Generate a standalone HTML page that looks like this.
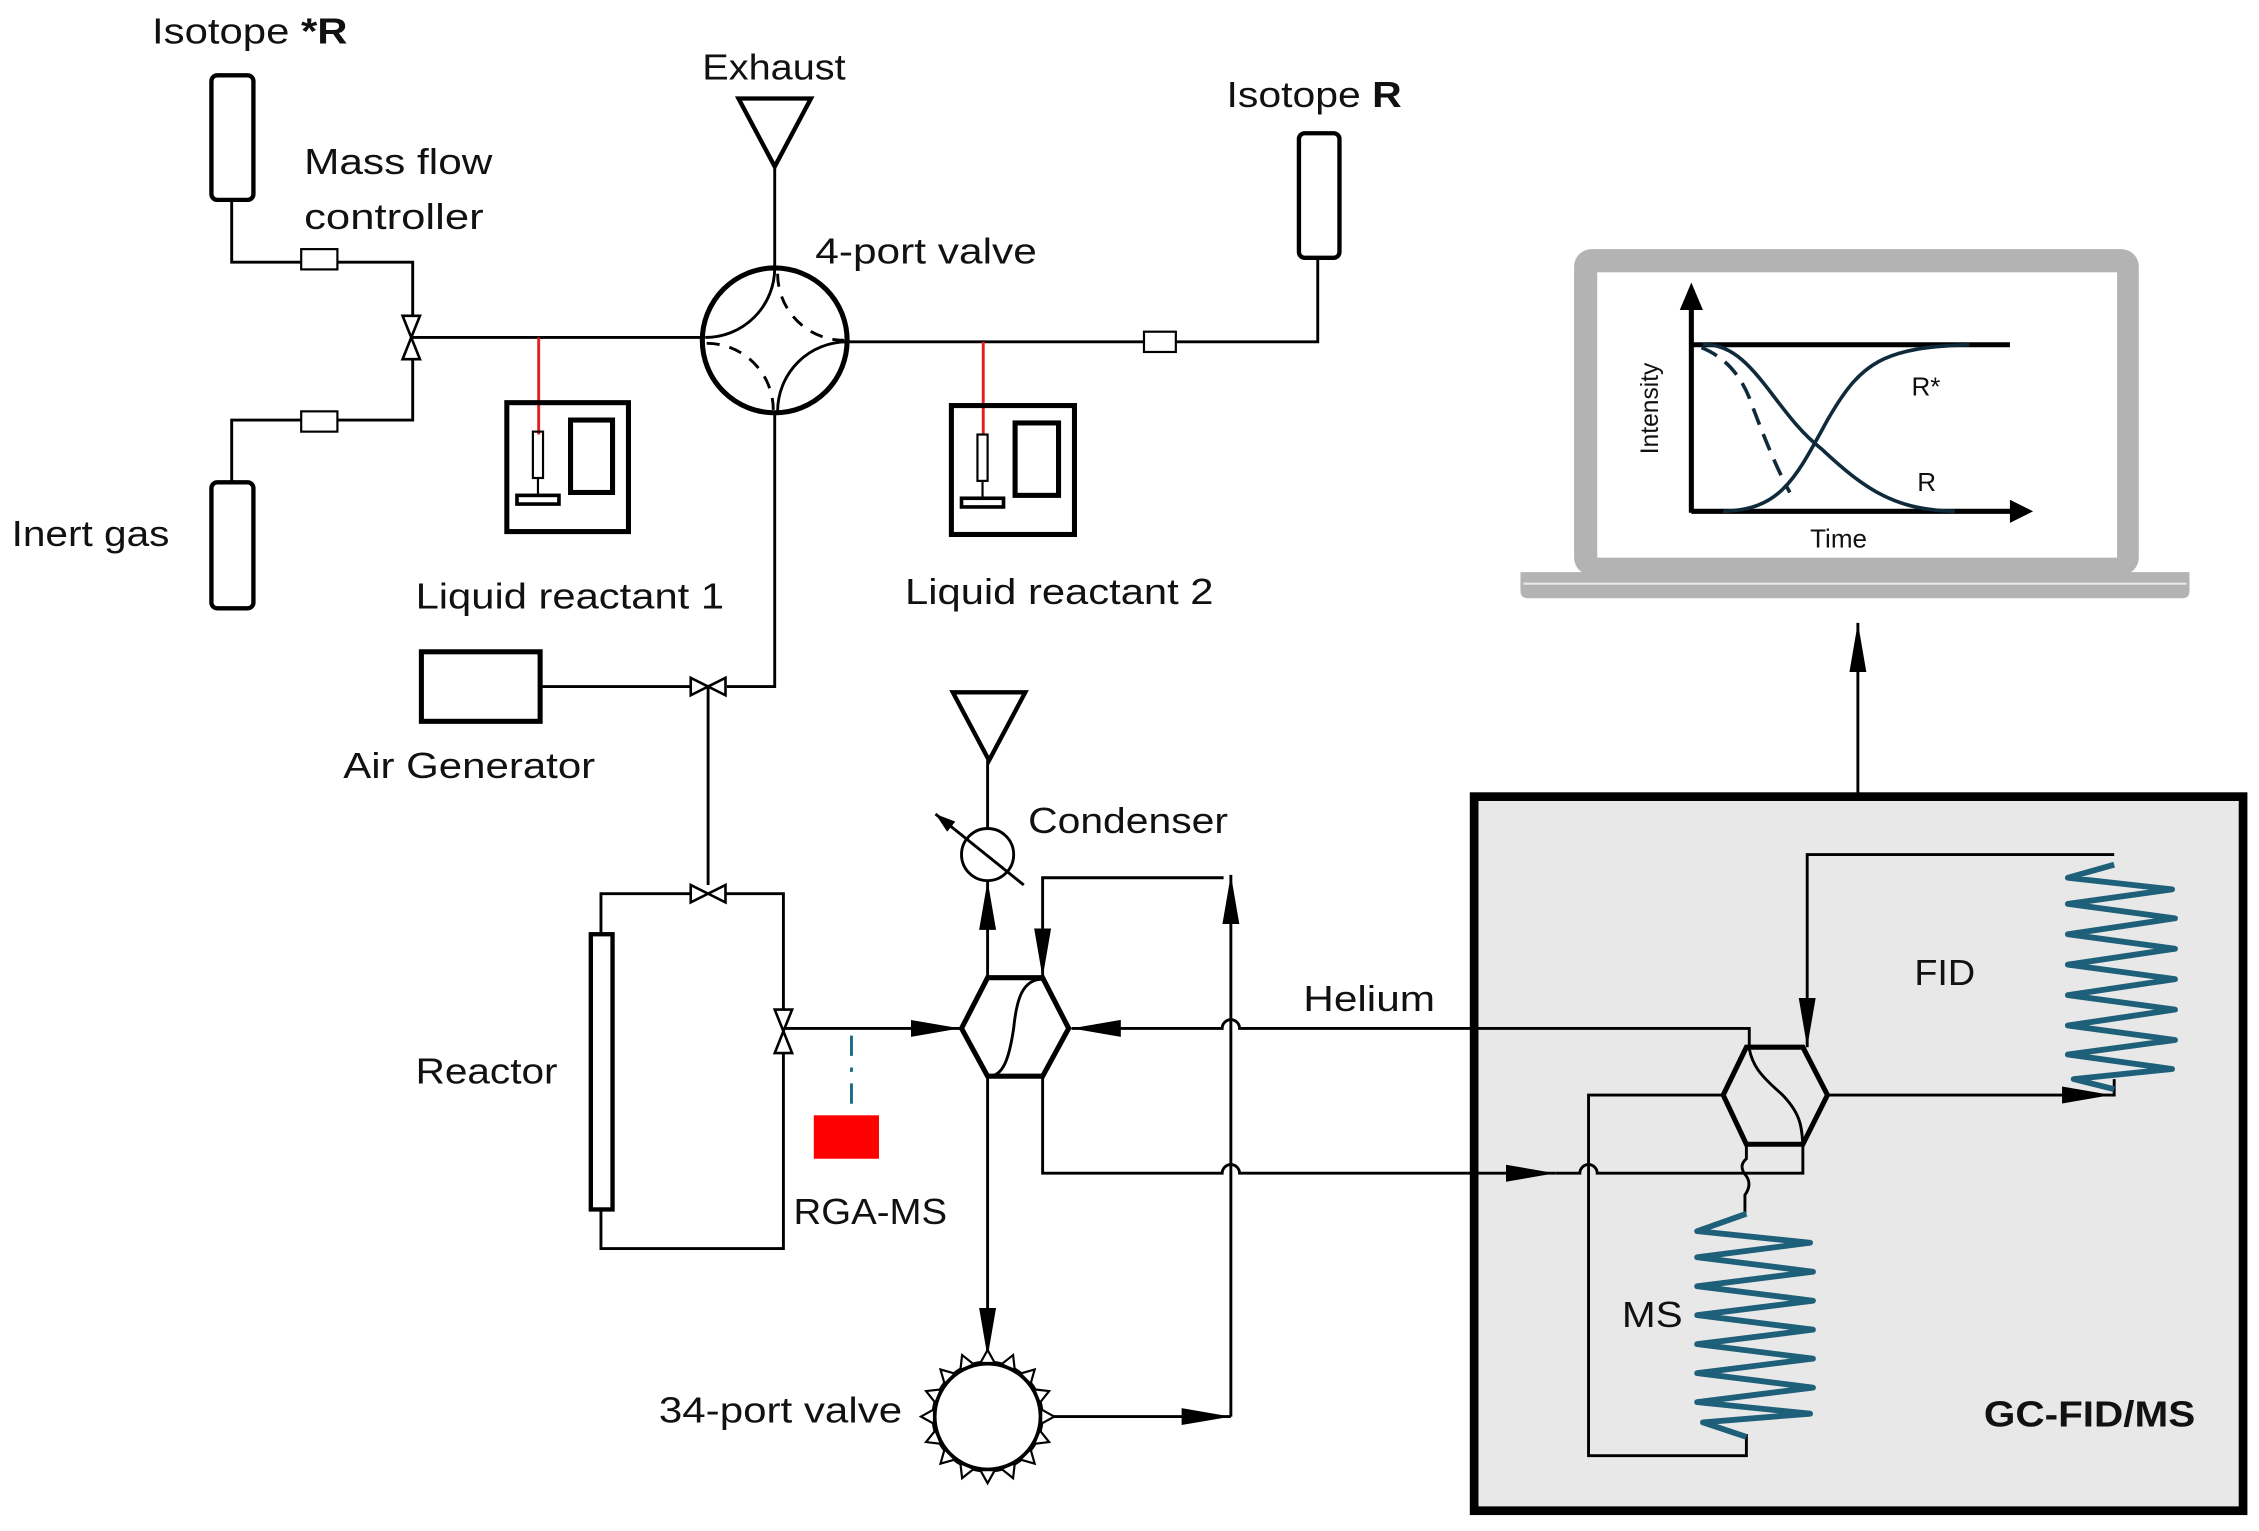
<!DOCTYPE html>
<html><head><meta charset="utf-8"><style>
html,body{margin:0;padding:0;background:#fff}
svg{display:block}
text{font-family:"Liberation Sans",sans-serif;fill:#111}
</style></head><body>
<svg width="2259" height="1531" viewBox="0 0 1560 1057" preserveAspectRatio="none" xmlns="http://www.w3.org/2000/svg">
<defs>
<marker id="ah" viewBox="0 0 10 10" refX="10" refY="5" markerWidth="34" markerHeight="13" markerUnits="userSpaceOnUse" orient="auto" preserveAspectRatio="none"><path d="M0,0.5 L10,5 L0,9.5 Z" fill="#000"/></marker>
<marker id="as" viewBox="0 0 10 10" refX="10" refY="5" markerWidth="14" markerHeight="10" markerUnits="userSpaceOnUse" orient="auto" preserveAspectRatio="none"><path d="M0,0.5 L10,5 L0,9.5 Z" fill="#000"/></marker>
</defs>
<g fill="none" stroke="#000" stroke-width="2">
<rect x="146" y="52" width="29" height="86" rx="4" stroke-width="3"/>
<path d="M160,138 V181 H285 V218"/>
<rect x="208" y="172" width="25" height="14" fill="#fff" stroke-width="1.5"/>
<path d="M278,218 L290,218 L284,233 Z M278,248 L290,248 L284,233 Z" fill="#fff" stroke-width="1.8"/>
<path d="M285,248 V290 H160 V333"/>
<rect x="208" y="284" width="25" height="14" fill="#fff" stroke-width="1.5"/>
<rect x="146" y="333" width="29" height="87" rx="4" stroke-width="3"/>
<path d="M284,233 H485"/>
<path d="M585,236 H910 V178"/>
<rect x="790" y="229" width="22" height="14" fill="#fff" stroke-width="1.5"/>
<rect x="897" y="92" width="28" height="86" rx="4" stroke-width="3"/>
<path d="M510,68 L560,68 L535,115 Z" stroke-width="3"/>
<path d="M535,115 V185"/>
<circle cx="535" cy="235" r="50" stroke-width="3.5"/>
<path d="M535,185 A48,48 0 0 1 487,233"/>
<path d="M585,236 A48,48 0 0 0 537,284"/>
<path d="M537,189 A46,46 0 0 0 583,235" stroke-dasharray="9,7"/>
<path d="M488,237 A46,46 0 0 1 534,283" stroke-dasharray="9,7"/>
<path d="M535,285 V474 H502"/>
<path d="M372,233 V300 M679,236 V300" stroke="#e02020"/>
<rect x="350" y="278" width="84" height="89" stroke-width="3.5"/>
<rect x="368" y="298" width="7" height="32" stroke-width="1.5"/>
<path d="M371.5,330 V343" stroke-width="1.5"/>
<rect x="357" y="342" width="29" height="6" stroke-width="2.5"/>
<rect x="394" y="290" width="29" height="50" stroke-width="3.5"/>
<rect x="657" y="280" width="85" height="89" stroke-width="3.5"/>
<rect x="675" y="300" width="7" height="32" stroke-width="1.5"/>
<path d="M678.5,332 V345" stroke-width="1.5"/>
<rect x="664" y="344" width="29" height="6" stroke-width="2.5"/>
<rect x="701" y="292" width="30" height="50" stroke-width="3.5"/>
<rect x="291" y="450" width="82" height="48" stroke-width="3.5"/>
<path d="M373,474 H477"/>
<path d="M477,468 V480 L489,474 Z M501,468 V480 L489,474 Z" fill="#fff" stroke-width="1.8"/>
<path d="M489,474 V611"/>
<path d="M477,611 V623 L489,617 Z M501,611 V623 L489,617 Z" fill="#fff" stroke-width="1.8"/>
<path d="M477,617 H415 V645 M501,617 H541 V697"/>
<rect x="408" y="645" width="15" height="190" stroke-width="3"/>
<path d="M415,835 V862 H541 V727"/>
<path d="M535,697 H547 L541,712 Z M535,727 H547 L541,712 Z" fill="#fff" stroke-width="1.8"/>
<path d="M541,710 H663" marker-end="url(#ah)"/>
<path d="M588,715 V770" stroke="#1a6a8a" stroke-dasharray="14,8,3,8"/>
<rect x="562" y="770" width="45" height="30" fill="#ff0000" stroke="none"/>
<path d="M664,710 L682,675 L720,675 L738,710 L720,743 L682,743 Z" stroke-width="3.5" fill="#fff"/>
<path d="M720,676 C706,676 702,690 700,710 C697,730 693,743 683,743"/>
<path d="M682,675 V608" marker-end="url(#ah)"/>
<circle cx="682" cy="590" r="18"/>
<path d="M707,611 L646,562" marker-end="url(#as)" stroke-width="2"/>
<path d="M682,572 V525"/>
<path d="M658,478 L708,478 L683,525 Z" stroke-width="3"/>
<path d="M845,606 H720 V675" marker-end="url(#ah)"/>
<path d="M850,978 V604" marker-end="url(#ah)"/>
<path d="M1208,728 V710 H856 A6,6 0 0 0 844,710 H740" marker-end="url(#ah)"/>
<path d="M682,743 V937" marker-end="url(#ah)"/>
<path d="M720,743 V810 H844 A6,6 0 0 1 856,810 H1074" marker-end="url(#ah)"/>
<circle cx="682" cy="978" r="37" stroke-width="3.5" fill="#fff"/>
<path d="M720,978 H850" marker-end="url(#ah)"/>
</g>
<g fill="#fff" stroke="#000" stroke-width="1.5">
<path d="M677,941 L682,932 L687,941 Z" transform="rotate(0 682 978)"/>
<path d="M677,941 L682,932 L687,941 Z" transform="rotate(22.5 682 978)"/>
<path d="M677,941 L682,932 L687,941 Z" transform="rotate(45 682 978)"/>
<path d="M677,941 L682,932 L687,941 Z" transform="rotate(67.5 682 978)"/>
<path d="M677,941 L682,932 L687,941 Z" transform="rotate(90 682 978)"/>
<path d="M677,941 L682,932 L687,941 Z" transform="rotate(112.5 682 978)"/>
<path d="M677,941 L682,932 L687,941 Z" transform="rotate(135 682 978)"/>
<path d="M677,941 L682,932 L687,941 Z" transform="rotate(157.5 682 978)"/>
<path d="M677,941 L682,932 L687,941 Z" transform="rotate(180 682 978)"/>
<path d="M677,941 L682,932 L687,941 Z" transform="rotate(202.5 682 978)"/>
<path d="M677,941 L682,932 L687,941 Z" transform="rotate(225 682 978)"/>
<path d="M677,941 L682,932 L687,941 Z" transform="rotate(247.5 682 978)"/>
<path d="M677,941 L682,932 L687,941 Z" transform="rotate(270 682 978)"/>
<path d="M677,941 L682,932 L687,941 Z" transform="rotate(292.5 682 978)"/>
<path d="M677,941 L682,932 L687,941 Z" transform="rotate(315 682 978)"/>
<path d="M677,941 L682,932 L687,941 Z" transform="rotate(337.5 682 978)"/>
</g>
<rect x="1018" y="550" width="531" height="493" fill="#e8e8e8" stroke="#000" stroke-width="6"/>
<g fill="none" stroke="#000" stroke-width="2">
<path d="M1021,710 H1208 V723"/>
<path d="M1021,810 H1074" marker-end="url(#ah)"/>
<path d="M1074,810 H1091 A6,6 0 0 1 1103,810 H1245 V790"/>
<path d="M1189,756 H1097 V1005 H1206 V990"/>
<path d="M1206,790 V800 Q1200,805 1206,812 Q1210,818 1205,825 V838"/>
<path d="M1190,756 L1206,723 L1245,723 L1262,756 L1245,790 L1206,790 Z" stroke-width="3.5" fill="#e8e8e8"/>
<path d="M1208,724 C1210,735 1215,742 1230,755 C1245,770 1244,780 1245,790"/>
<path d="M1262,756 H1458" marker-end="url(#ah)"/>
<path d="M1458,756 H1460 V745"/>
<path d="M1460,590 H1248 V723" marker-end="url(#ah)"/>
<path d="M1283,548 V430" marker-end="url(#ah)"/>
</g>
<g fill="none" stroke="#1e5f7a" stroke-width="4" stroke-linejoin="round">
<path d="M1460,597 L1428,606 L1500,614 L1428,624 L1502,634 L1428,645 L1502,655 L1428,666 L1502,676 L1428,687 L1502,697 L1428,708 L1502,718 L1428,728 L1500,738 L1432,745 L1460,752"/>
<path d="M1206,838 L1172,850 L1250,858 L1172,868 L1252,878 L1172,888 L1252,898 L1172,908 L1252,918 L1172,928 L1252,938 L1172,948 L1252,958 L1172,968 L1250,976 L1176,982 L1206,992"/>
</g>
<rect x="1087" y="172" width="390" height="225" rx="12" fill="#b3b3b3"/>
<rect x="1103" y="188" width="359" height="197" fill="#fff"/>
<path d="M1050,395 H1512 V408 Q1512,413 1507,413 H1055 Q1050,413 1050,408 Z" fill="#b3b3b3"/>
<path d="M1052,403 H1510" stroke="#e8e8e8" stroke-width="1.5"/>
<g fill="none" stroke="#000" stroke-width="3.5">
<path d="M1168,354 V212"/>
<path d="M1168,353 H1392"/>
<path d="M1168,238 H1388"/>
</g>
<path d="M1160,214 L1168,195 L1176,214 Z M1388,345 L1404,353 L1388,361 Z" fill="#000"/>
<g fill="none" stroke="#0f2a3a" stroke-width="2.5">
<path d="M1176,238 C1210,236 1225,285 1258,310 C1290,340 1310,352 1350,353"/>
<path d="M1190,353 C1230,352 1240,330 1262,290 C1285,250 1300,240 1360,238"/>
<path d="M1175,240 Q1200,250 1210,280 Q1225,320 1236,340" stroke-dasharray="12,7"/>
</g>
<text x="1145" y="282" font-size="17" text-anchor="middle" transform="rotate(-90 1145 282)">Intensity</text>
<text x="1250" y="378" font-size="18">Time</text>
<text x="1320" y="273" font-size="18">R*</text>
<text x="1324" y="339" font-size="18">R</text>
<g font-size="25">
<text x="105" y="30" textLength="135" lengthAdjust="spacingAndGlyphs">Isotope <tspan font-weight="bold">*R</tspan></text>
<text x="485" y="55" textLength="99" lengthAdjust="spacingAndGlyphs">Exhaust</text>
<text x="847" y="74" textLength="121" lengthAdjust="spacingAndGlyphs">Isotope <tspan font-weight="bold">R</tspan></text>
<text x="210" y="120" textLength="130" lengthAdjust="spacingAndGlyphs">Mass flow</text>
<text x="210" y="158" textLength="124" lengthAdjust="spacingAndGlyphs">controller</text>
<text x="563" y="182" textLength="153" lengthAdjust="spacingAndGlyphs">4-port valve</text>
<text x="8" y="377" textLength="109" lengthAdjust="spacingAndGlyphs">Inert gas</text>
<text x="287" y="420" textLength="213" lengthAdjust="spacingAndGlyphs">Liquid reactant 1</text>
<text x="625" y="417" textLength="213" lengthAdjust="spacingAndGlyphs">Liquid reactant 2</text>
<text x="237" y="537" textLength="174" lengthAdjust="spacingAndGlyphs">Air Generator</text>
<text x="710" y="575" textLength="138" lengthAdjust="spacingAndGlyphs">Condenser</text>
<text x="900" y="698" textLength="91" lengthAdjust="spacingAndGlyphs">Helium</text>
<text x="287" y="748" textLength="98" lengthAdjust="spacingAndGlyphs">Reactor</text>
<text x="548" y="845" textLength="106" lengthAdjust="spacingAndGlyphs">RGA-MS</text>
<text x="455" y="982" textLength="168" lengthAdjust="spacingAndGlyphs">34-port valve</text>
<text x="1322" y="680" textLength="42" lengthAdjust="spacingAndGlyphs">FID</text>
<text x="1120" y="916" textLength="42" lengthAdjust="spacingAndGlyphs">MS</text>
<text x="1370" y="985" font-weight="bold" textLength="146" lengthAdjust="spacingAndGlyphs">GC-FID/MS</text>
</g>
</svg>
</body></html>
